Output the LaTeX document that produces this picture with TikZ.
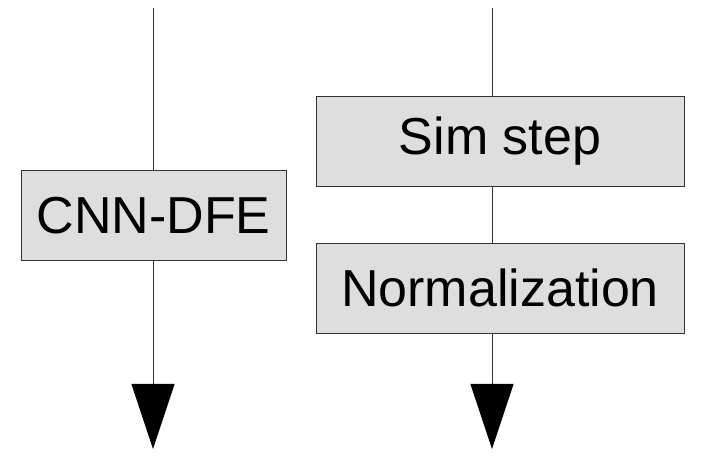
\documentclass[tikz,border=0pt]{standalone}
\usepackage{fontspec}
\setmainfont{Liberation Sans}
\usetikzlibrary{positioning, arrows.meta}

\begin{document}
\begin{tikzpicture}[
        x=1pt, y=-1pt,
        node distance=56pt,
        every node/.style={align=center, font=\fontsize{52}{60}\selectfont},
        blockbox/.style={draw=black!80, line width=0.9pt, rectangle, fill=black!13, minimum height=90pt, inner sep=0pt},
        arrow/.style={-{Triangle[width=43pt, length=65pt, color=black]}, line width=0.9pt, draw=black!80}
    ]
    \useasboundingbox (0,0) rectangle (705,462);

    % 1. Left path
    \node[blockbox, minimum width=265pt] (cnn) at (153.5,215.5) {CNN-DFE};

    % 2. Right path
    \node[blockbox, minimum width=368pt] (sim) at (500,141.5) {Sim step};
    \node[blockbox, minimum width=368pt] (norm) [below=of sim] {Normalization};

    % Line ends
    \coordinate (ltop) at (153,8);
    \coordinate (lend) at (153,449);
    \coordinate (rtop) at (492,8);
    \coordinate (rend) at (492,449);

    % Vertical lines and arrows
    \draw[arrow, -] (ltop) -- (ltop |- cnn.north);
    \draw[arrow] (lend |- cnn.south) -- (lend);
    \draw[arrow, -] (rtop) -- (rtop |- sim.north);
    \draw[arrow, -] (rtop |- sim.south) -- (rtop |- norm.north);
    \draw[arrow] (rend |- norm.south) -- (rend);

\end{tikzpicture}
\end{document}
